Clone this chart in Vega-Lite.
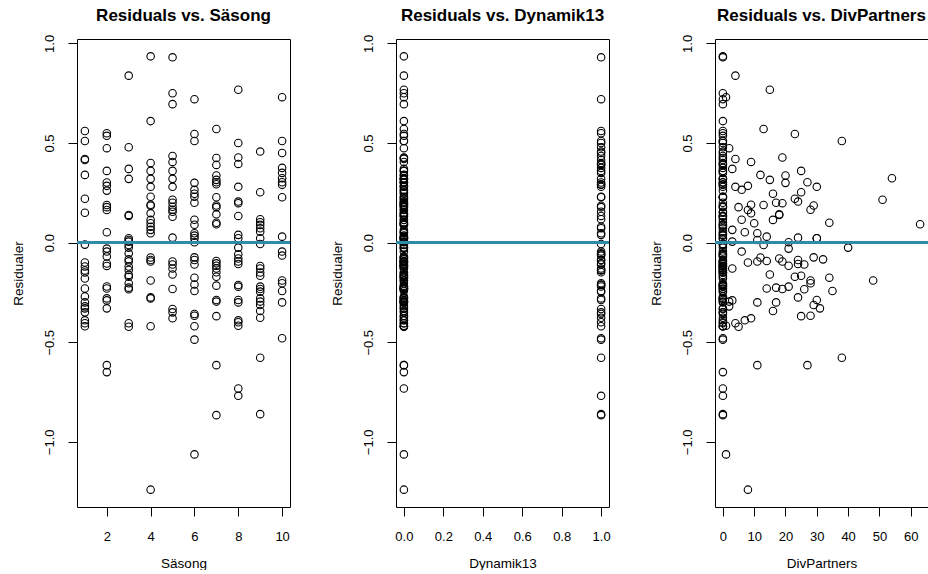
{
  "$schema": "https://vega.github.io/schema/vega-lite/v6.json",
  "background": "white",
  "padding": {"left": 10, "top": 6, "right": 0, "bottom": 0},
  "bounds": "flush",
  "spacing": 106,
  "config": {
    "font": "Liberation Sans",
    "view": {"stroke": "black", "strokeWidth": 1},
    "axis": {
      "domain": false,
      "grid": false,
      "ticks": true,
      "tickColor": "black",
      "tickSize": 9,
      "tickWidth": 1,
      "labelColor": "black",
      "titleColor": "black",
      "labelFont": "Liberation Sans",
      "titleFont": "Liberation Sans",
      "labelFontSize": 13,
      "titleFontSize": 13.5,
      "titleFontWeight": "normal"
    },
    "axisX": {"labelPadding": 14, "titlePadding": 13},
    "axisY": {"labelAngle": -90, "labelPadding": 12, "titlePadding": 18},
    "title": {"font": "Liberation Sans", "fontSize": 17, "fontWeight": "bold", "color": "black", "offset": 9}
  },
  "datasets": {
    "obs": [
      {"sasong":1,"dynamik13":1,"divpartners":0,"residual":0.56},
      {"sasong":1,"dynamik13":0,"divpartners":0,"residual":0.51},
      {"sasong":1,"dynamik13":0,"divpartners":4,"residual":0.42},
      {"sasong":1,"dynamik13":1,"divpartners":0,"residual":0.415},
      {"sasong":1,"dynamik13":0,"divpartners":12,"residual":0.34},
      {"sasong":1,"dynamik13":0,"divpartners":23,"residual":0.22},
      {"sasong":1,"dynamik13":0,"divpartners":0,"residual":0.15},
      {"sasong":1,"dynamik13":0,"divpartners":0,"residual":-0.01},
      {"sasong":1,"dynamik13":0,"divpartners":8,"residual":-0.10},
      {"sasong":1,"dynamik13":0,"divpartners":0,"residual":-0.12},
      {"sasong":1,"dynamik13":1,"divpartners":0,"residual":-0.14},
      {"sasong":1,"dynamik13":0,"divpartners":0,"residual":-0.15},
      {"sasong":1,"dynamik13":0,"divpartners":0,"residual":-0.18},
      {"sasong":1,"dynamik13":0,"divpartners":14,"residual":-0.23},
      {"sasong":1,"dynamik13":0,"divpartners":0,"residual":-0.27},
      {"sasong":1,"dynamik13":0,"divpartners":11,"residual":-0.30},
      {"sasong":1,"dynamik13":0,"divpartners":2,"residual":-0.32},
      {"sasong":1,"dynamik13":0,"divpartners":0,"residual":-0.33},
      {"sasong":1,"dynamik13":1,"divpartners":0,"residual":-0.35},
      {"sasong":1,"dynamik13":0,"divpartners":0,"residual":-0.39},
      {"sasong":1,"dynamik13":0,"divpartners":0,"residual":-0.405},
      {"sasong":1,"dynamik13":0,"divpartners":0,"residual":-0.42},

      {"sasong":2,"dynamik13":1,"divpartners":0,"residual":0.549},
      {"sasong":2,"dynamik13":0,"divpartners":0,"residual":0.536},
      {"sasong":2,"dynamik13":0,"divpartners":2,"residual":0.474},
      {"sasong":2,"dynamik13":0,"divpartners":25,"residual":0.36},
      {"sasong":2,"dynamik13":1,"divpartners":0,"residual":0.302},
      {"sasong":2,"dynamik13":0,"divpartners":8,"residual":0.285},
      {"sasong":2,"dynamik13":0,"divpartners":0,"residual":0.261},
      {"sasong":2,"dynamik13":0,"divpartners":13,"residual":0.189},
      {"sasong":2,"dynamik13":1,"divpartners":0,"residual":0.178},
      {"sasong":2,"dynamik13":0,"divpartners":8,"residual":0.164},
      {"sasong":2,"dynamik13":0,"divpartners":7,"residual":0.052},
      {"sasong":2,"dynamik13":0,"divpartners":21,"residual":-0.03},
      {"sasong":2,"dynamik13":1,"divpartners":0,"residual":-0.045},
      {"sasong":2,"dynamik13":0,"divpartners":0,"residual":-0.07},
      {"sasong":2,"dynamik13":0,"divpartners":0,"residual":-0.105},
      {"sasong":2,"dynamik13":0,"divpartners":0,"residual":-0.117},
      {"sasong":2,"dynamik13":1,"divpartners":0,"residual":-0.22},
      {"sasong":2,"dynamik13":0,"divpartners":0,"residual":-0.23},
      {"sasong":2,"dynamik13":0,"divpartners":0,"residual":-0.28},
      {"sasong":2,"dynamik13":0,"divpartners":3,"residual":-0.29},
      {"sasong":2,"dynamik13":0,"divpartners":31,"residual":-0.33},
      {"sasong":2,"dynamik13":0,"divpartners":11,"residual":-0.615},
      {"sasong":2,"dynamik13":0,"divpartners":0,"residual":-0.65},

      {"sasong":3,"dynamik13":0,"divpartners":4,"residual":0.838},
      {"sasong":3,"dynamik13":1,"divpartners":0,"residual":0.479},
      {"sasong":3,"dynamik13":0,"divpartners":3,"residual":0.37},
      {"sasong":3,"dynamik13":1,"divpartners":0,"residual":0.32},
      {"sasong":3,"dynamik13":0,"divpartners":18,"residual":0.139},
      {"sasong":3,"dynamik13":1,"divpartners":0,"residual":0.134},
      {"sasong":3,"dynamik13":0,"divpartners":30,"residual":0.022},
      {"sasong":3,"dynamik13":0,"divpartners":11,"residual":0.013},
      {"sasong":3,"dynamik13":0,"divpartners":3,"residual":0.005},
      {"sasong":3,"dynamik13":0,"divpartners":13,"residual":-0.012},
      {"sasong":3,"dynamik13":0,"divpartners":40,"residual":-0.025},
      {"sasong":3,"dynamik13":1,"divpartners":0,"residual":-0.054},
      {"sasong":3,"dynamik13":0,"divpartners":32,"residual":-0.084},
      {"sasong":3,"dynamik13":0,"divpartners":0,"residual":-0.095},
      {"sasong":3,"dynamik13":0,"divpartners":0,"residual":-0.12},
      {"sasong":3,"dynamik13":1,"divpartners":0,"residual":-0.137},
      {"sasong":3,"dynamik13":0,"divpartners":0,"residual":-0.162},
      {"sasong":3,"dynamik13":0,"divpartners":0,"residual":-0.171},
      {"sasong":3,"dynamik13":1,"divpartners":0,"residual":-0.204},
      {"sasong":3,"dynamik13":0,"divpartners":17,"residual":-0.226},
      {"sasong":3,"dynamik13":0,"divpartners":26,"residual":-0.234},
      {"sasong":3,"dynamik13":0,"divpartners":4,"residual":-0.405},
      {"sasong":3,"dynamik13":0,"divpartners":5,"residual":-0.422},

      {"sasong":4,"dynamik13":0,"divpartners":0,"residual":0.935},
      {"sasong":4,"dynamik13":0,"divpartners":0,"residual":0.61},
      {"sasong":4,"dynamik13":1,"divpartners":0,"residual":0.40},
      {"sasong":4,"dynamik13":0,"divpartners":0,"residual":0.36},
      {"sasong":4,"dynamik13":0,"divpartners":0,"residual":0.32},
      {"sasong":4,"dynamik13":0,"divpartners":30,"residual":0.28},
      {"sasong":4,"dynamik13":0,"divpartners":0,"residual":0.23},
      {"sasong":4,"dynamik13":0,"divpartners":9,"residual":0.19},
      {"sasong":4,"dynamik13":1,"divpartners":0,"residual":0.185},
      {"sasong":4,"dynamik13":0,"divpartners":9,"residual":0.147},
      {"sasong":4,"dynamik13":0,"divpartners":16,"residual":0.114},
      {"sasong":4,"dynamik13":0,"divpartners":10,"residual":0.097},
      {"sasong":4,"dynamik13":1,"divpartners":0,"residual":0.08},
      {"sasong":4,"dynamik13":0,"divpartners":3,"residual":0.064},
      {"sasong":4,"dynamik13":0,"divpartners":11,"residual":0.047},
      {"sasong":4,"dynamik13":0,"divpartners":12,"residual":-0.075},
      {"sasong":4,"dynamik13":1,"divpartners":24,"residual":-0.087},
      {"sasong":4,"dynamik13":0,"divpartners":19,"residual":-0.095},
      {"sasong":4,"dynamik13":0,"divpartners":28,"residual":-0.19},
      {"sasong":4,"dynamik13":0,"divpartners":24,"residual":-0.275},
      {"sasong":4,"dynamik13":1,"divpartners":0,"residual":-0.28},
      {"sasong":4,"dynamik13":1,"divpartners":0,"residual":-0.42},
      {"sasong":4,"dynamik13":0,"divpartners":8,"residual":-1.24},

      {"sasong":5,"dynamik13":1,"divpartners":0,"residual":0.93},
      {"sasong":5,"dynamik13":0,"divpartners":0,"residual":0.75},
      {"sasong":5,"dynamik13":0,"divpartners":0,"residual":0.695},
      {"sasong":5,"dynamik13":1,"divpartners":0,"residual":0.435},
      {"sasong":5,"dynamik13":0,"divpartners":9,"residual":0.405},
      {"sasong":5,"dynamik13":1,"divpartners":0,"residual":0.36},
      {"sasong":5,"dynamik13":0,"divpartners":0,"residual":0.32},
      {"sasong":5,"dynamik13":0,"divpartners":4,"residual":0.28},
      {"sasong":5,"dynamik13":0,"divpartners":51,"residual":0.215},
      {"sasong":5,"dynamik13":0,"divpartners":17,"residual":0.20},
      {"sasong":5,"dynamik13":0,"divpartners":0,"residual":0.18},
      {"sasong":5,"dynamik13":0,"divpartners":28,"residual":0.165},
      {"sasong":5,"dynamik13":1,"divpartners":0,"residual":0.155},
      {"sasong":5,"dynamik13":0,"divpartners":0,"residual":0.13},
      {"sasong":5,"dynamik13":0,"divpartners":24,"residual":0.025},
      {"sasong":5,"dynamik13":0,"divpartners":11,"residual":-0.095},
      {"sasong":5,"dynamik13":1,"divpartners":0,"residual":-0.11},
      {"sasong":5,"dynamik13":0,"divpartners":3,"residual":-0.13},
      {"sasong":5,"dynamik13":0,"divpartners":15,"residual":-0.16},
      {"sasong":5,"dynamik13":0,"divpartners":19,"residual":-0.233},
      {"sasong":5,"dynamik13":1,"divpartners":0,"residual":-0.333},
      {"sasong":5,"dynamik13":0,"divpartners":0,"residual":-0.35},
      {"sasong":5,"dynamik13":0,"divpartners":9,"residual":-0.38},

      {"sasong":6,"dynamik13":1,"divpartners":0,"residual":0.72},
      {"sasong":6,"dynamik13":0,"divpartners":23,"residual":0.545},
      {"sasong":6,"dynamik13":1,"divpartners":0,"residual":0.51},
      {"sasong":6,"dynamik13":0,"divpartners":20,"residual":0.30},
      {"sasong":6,"dynamik13":0,"divpartners":6,"residual":0.265},
      {"sasong":6,"dynamik13":0,"divpartners":16,"residual":0.245},
      {"sasong":6,"dynamik13":1,"divpartners":0,"residual":0.23},
      {"sasong":6,"dynamik13":0,"divpartners":0,"residual":0.20},
      {"sasong":6,"dynamik13":0,"divpartners":6,"residual":0.115},
      {"sasong":6,"dynamik13":0,"divpartners":0,"residual":0.09},
      {"sasong":6,"dynamik13":1,"divpartners":0,"residual":0.047},
      {"sasong":6,"dynamik13":0,"divpartners":0,"residual":0.035},
      {"sasong":6,"dynamik13":0,"divpartners":0,"residual":0.022},
      {"sasong":6,"dynamik13":0,"divpartners":21,"residual":0.002},
      {"sasong":6,"dynamik13":0,"divpartners":29,"residual":-0.074},
      {"sasong":6,"dynamik13":1,"divpartners":0,"residual":-0.087},
      {"sasong":6,"dynamik13":0,"divpartners":26,"residual":-0.11},
      {"sasong":6,"dynamik13":0,"divpartners":34,"residual":-0.176},
      {"sasong":6,"dynamik13":1,"divpartners":0,"residual":-0.21},
      {"sasong":6,"dynamik13":0,"divpartners":35,"residual":-0.243},
      {"sasong":6,"dynamik13":1,"divpartners":0,"residual":-0.358},
      {"sasong":6,"dynamik13":0,"divpartners":28,"residual":-0.367},
      {"sasong":6,"dynamik13":0,"divpartners":0,"residual":-0.42},
      {"sasong":6,"dynamik13":1,"divpartners":0,"residual":-0.487},
      {"sasong":6,"dynamik13":0,"divpartners":1,"residual":-1.063},

      {"sasong":7,"dynamik13":0,"divpartners":13,"residual":0.57},
      {"sasong":7,"dynamik13":0,"divpartners":0,"residual":0.425},
      {"sasong":7,"dynamik13":1,"divpartners":0,"residual":0.39},
      {"sasong":7,"dynamik13":0,"divpartners":20,"residual":0.337},
      {"sasong":7,"dynamik13":0,"divpartners":15,"residual":0.315},
      {"sasong":7,"dynamik13":0,"divpartners":27,"residual":0.303},
      {"sasong":7,"dynamik13":1,"divpartners":0,"residual":0.293},
      {"sasong":7,"dynamik13":1,"divpartners":0,"residual":0.228},
      {"sasong":7,"dynamik13":0,"divpartners":29,"residual":0.186},
      {"sasong":7,"dynamik13":0,"divpartners":5,"residual":0.178},
      {"sasong":7,"dynamik13":0,"divpartners":18,"residual":0.142},
      {"sasong":7,"dynamik13":0,"divpartners":34,"residual":0.10},
      {"sasong":7,"dynamik13":0,"divpartners":63,"residual":0.092},
      {"sasong":7,"dynamik13":0,"divpartners":14,"residual":-0.092},
      {"sasong":7,"dynamik13":1,"divpartners":0,"residual":-0.104},
      {"sasong":7,"dynamik13":0,"divpartners":21,"residual":-0.116},
      {"sasong":7,"dynamik13":0,"divpartners":0,"residual":-0.13},
      {"sasong":7,"dynamik13":1,"divpartners":0,"residual":-0.149},
      {"sasong":7,"dynamik13":0,"divpartners":23,"residual":-0.171},
      {"sasong":7,"dynamik13":0,"divpartners":0,"residual":-0.216},
      {"sasong":7,"dynamik13":1,"divpartners":0,"residual":-0.288},
      {"sasong":7,"dynamik13":0,"divpartners":2,"residual":-0.296},
      {"sasong":7,"dynamik13":0,"divpartners":25,"residual":-0.369},
      {"sasong":7,"dynamik13":0,"divpartners":27,"residual":-0.615},
      {"sasong":7,"dynamik13":1,"divpartners":0,"residual":-0.866},

      {"sasong":8,"dynamik13":0,"divpartners":15,"residual":0.767},
      {"sasong":8,"dynamik13":1,"divpartners":0,"residual":0.50},
      {"sasong":8,"dynamik13":0,"divpartners":19,"residual":0.427},
      {"sasong":8,"dynamik13":1,"divpartners":0,"residual":0.395},
      {"sasong":8,"dynamik13":1,"divpartners":0,"residual":0.28},
      {"sasong":8,"dynamik13":0,"divpartners":24,"residual":0.206},
      {"sasong":8,"dynamik13":0,"divpartners":19,"residual":0.198},
      {"sasong":8,"dynamik13":0,"divpartners":0,"residual":0.134},
      {"sasong":8,"dynamik13":1,"divpartners":0,"residual":0.039},
      {"sasong":8,"dynamik13":0,"divpartners":30,"residual":0.022},
      {"sasong":8,"dynamik13":0,"divpartners":0,"residual":-0.025},
      {"sasong":8,"dynamik13":1,"divpartners":0,"residual":-0.059},
      {"sasong":8,"dynamik13":0,"divpartners":18,"residual":-0.08},
      {"sasong":8,"dynamik13":0,"divpartners":0,"residual":-0.095},
      {"sasong":8,"dynamik13":0,"divpartners":24,"residual":-0.107},
      {"sasong":8,"dynamik13":1,"divpartners":0,"residual":-0.213},
      {"sasong":8,"dynamik13":0,"divpartners":0,"residual":-0.221},
      {"sasong":8,"dynamik13":0,"divpartners":30,"residual":-0.288},
      {"sasong":8,"dynamik13":0,"divpartners":0,"residual":-0.30},
      {"sasong":8,"dynamik13":0,"divpartners":7,"residual":-0.39},
      {"sasong":8,"dynamik13":1,"divpartners":0,"residual":-0.40},
      {"sasong":8,"dynamik13":0,"divpartners":1,"residual":-0.417},
      {"sasong":8,"dynamik13":0,"divpartners":0,"residual":-0.732},
      {"sasong":8,"dynamik13":1,"divpartners":0,"residual":-0.769},

      {"sasong":9,"dynamik13":1,"divpartners":0,"residual":0.457},
      {"sasong":9,"dynamik13":0,"divpartners":25,"residual":0.253},
      {"sasong":9,"dynamik13":1,"divpartners":0,"residual":0.117},
      {"sasong":9,"dynamik13":0,"divpartners":0,"residual":0.102},
      {"sasong":9,"dynamik13":0,"divpartners":0,"residual":0.089},
      {"sasong":9,"dynamik13":1,"divpartners":0,"residual":0.072},
      {"sasong":9,"dynamik13":0,"divpartners":0,"residual":0.055},
      {"sasong":9,"dynamik13":0,"divpartners":0,"residual":0.022},
      {"sasong":9,"dynamik13":1,"divpartners":0,"residual":-0.007},
      {"sasong":9,"dynamik13":0,"divpartners":0,"residual":-0.117},
      {"sasong":9,"dynamik13":1,"divpartners":0,"residual":-0.13},
      {"sasong":9,"dynamik13":0,"divpartners":0,"residual":-0.15},
      {"sasong":9,"dynamik13":0,"divpartners":25,"residual":-0.166},
      {"sasong":9,"dynamik13":0,"divpartners":21,"residual":-0.221},
      {"sasong":9,"dynamik13":0,"divpartners":0,"residual":-0.233},
      {"sasong":9,"dynamik13":1,"divpartners":0,"residual":-0.246},
      {"sasong":9,"dynamik13":0,"divpartners":0,"residual":-0.28},
      {"sasong":9,"dynamik13":0,"divpartners":0,"residual":-0.296},
      {"sasong":9,"dynamik13":0,"divpartners":29,"residual":-0.313},
      {"sasong":9,"dynamik13":0,"divpartners":16,"residual":-0.343},
      {"sasong":9,"dynamik13":1,"divpartners":0,"residual":-0.377},
      {"sasong":9,"dynamik13":1,"divpartners":38,"residual":-0.578},
      {"sasong":9,"dynamik13":1,"divpartners":0,"residual":-0.861},

      {"sasong":10,"dynamik13":0,"divpartners":1,"residual":0.73},
      {"sasong":10,"dynamik13":0,"divpartners":38,"residual":0.51},
      {"sasong":10,"dynamik13":1,"divpartners":0,"residual":0.45},
      {"sasong":10,"dynamik13":1,"divpartners":0,"residual":0.375},
      {"sasong":10,"dynamik13":1,"divpartners":0,"residual":0.35},
      {"sasong":10,"dynamik13":0,"divpartners":54,"residual":0.323},
      {"sasong":10,"dynamik13":0,"divpartners":0,"residual":0.303},
      {"sasong":10,"dynamik13":1,"divpartners":0,"residual":0.29},
      {"sasong":10,"dynamik13":0,"divpartners":0,"residual":0.228},
      {"sasong":10,"dynamik13":0,"divpartners":14,"residual":0.03},
      {"sasong":10,"dynamik13":0,"divpartners":6,"residual":-0.045},
      {"sasong":10,"dynamik13":1,"divpartners":0,"residual":-0.065},
      {"sasong":10,"dynamik13":0,"divpartners":48,"residual":-0.19},
      {"sasong":10,"dynamik13":0,"divpartners":28,"residual":-0.204},
      {"sasong":10,"dynamik13":1,"divpartners":0,"residual":-0.243},
      {"sasong":10,"dynamik13":0,"divpartners":17,"residual":-0.30},
      {"sasong":10,"dynamik13":1,"divpartners":0,"residual":-0.48}
    ]
  },
  "data": {"name": "obs"},
  "hconcat": [
    {
      "title": "Residuals vs. Säsong",
      "width": 213,
      "height": 468,
      "layer": [
        {
          "mark": {"type": "point", "shape": "circle", "filled": false, "color": "black", "size": 56, "strokeWidth": 1.1, "opacity": 1},
          "encoding": {
            "x": {"field": "sasong", "type": "quantitative", "scale": {"domain": [0.64, 10.36], "nice": false, "zero": false}, "axis": {"values": [2, 4, 6, 8, 10], "title": "Säsong"}},
            "y": {"field": "residual", "type": "quantitative", "scale": {"domain": [-1.327, 1.022], "nice": false, "zero": false}, "axis": {"values": [-1, -0.5, 0, 0.5, 1], "format": ".1f", "title": "Residualer"}}
          }
        },
        {"mark": {"type": "rule", "color": "#2f8ca8", "strokeWidth": 2.5}, "encoding": {"y": {"datum": 0}}}
      ]
    },
    {
      "title": "Residuals vs. Dynamik13",
      "width": 213,
      "height": 468,
      "layer": [
        {
          "mark": {"type": "point", "shape": "circle", "filled": false, "color": "black", "size": 56, "strokeWidth": 1.1, "opacity": 1},
          "encoding": {
            "x": {"field": "dynamik13", "type": "quantitative", "scale": {"domain": [-0.04, 1.04], "nice": false, "zero": false}, "axis": {"values": [0, 0.2, 0.4, 0.6, 0.8, 1], "format": ".1f", "title": "Dynamik13"}},
            "y": {"field": "residual", "type": "quantitative", "scale": {"domain": [-1.327, 1.022], "nice": false, "zero": false}, "axis": {"values": [-1, -0.5, 0, 0.5, 1], "format": ".1f", "title": "Residualer"}}
          }
        },
        {"mark": {"type": "rule", "color": "#2f8ca8", "strokeWidth": 2.5}, "encoding": {"y": {"datum": 0}}}
      ]
    },
    {
      "title": "Residuals vs. DivPartners",
      "width": 213,
      "height": 468,
      "layer": [
        {
          "mark": {"type": "point", "shape": "circle", "filled": false, "color": "black", "size": 56, "strokeWidth": 1.1, "opacity": 1},
          "encoding": {
            "x": {"field": "divpartners", "type": "quantitative", "scale": {"domain": [-2.52, 65.52], "nice": false, "zero": false}, "axis": {"values": [0, 10, 20, 30, 40, 50, 60], "title": "DivPartners"}},
            "y": {"field": "residual", "type": "quantitative", "scale": {"domain": [-1.327, 1.022], "nice": false, "zero": false}, "axis": {"values": [-1, -0.5, 0, 0.5, 1], "format": ".1f", "title": "Residualer"}}
          }
        },
        {"mark": {"type": "rule", "color": "#2f8ca8", "strokeWidth": 2.5}, "encoding": {"y": {"datum": 0}}}
      ]
    }
  ]
}
